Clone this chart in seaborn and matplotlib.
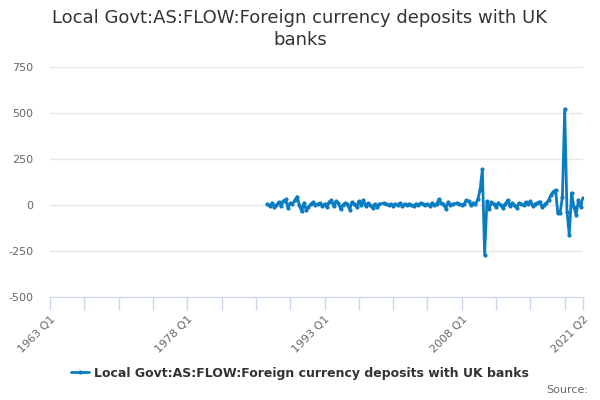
import numpy as np
import pandas as pd
import matplotlib
matplotlib.use("Agg")
import matplotlib.pyplot as plt
import seaborn as sns

title = "Local Govt:AS:FLOW:Foreign currency deposits with UK\nbanks"
series_name = "Local Govt:AS:FLOW:Foreign currency deposits with UK banks"

first_year, last_year, last_quarter = 1963, 2021, 2
data_start = "1986 Q4"

# quarterly flow values, 1986 Q4 .. 2021 Q2 (nan = missing)
values = [
    5,
    -5, 10, -10, 0,      # 1987
    15, -5, 20, 30,      # 1988
    -15, 10, 5, 25,      # 1989
    45, 0, -35, 10,      # 1990
    -25, -10, 5, 15,     # 1991
    0, 5, 10, -5,        # 1992
    5, -10, 15, 25,      # 1993
    -5, 20, 10, -20,     # 1994
    0, 10, 5, -25,       # 1995
    15, 5, -10, 20,      # 1996
    0, 25, -5, 10,       # 1997
    0, -15, 5, -10,      # 1998
    5, np.nan, 10, 5,    # 1999
    0, 5, -5, 5,         # 2000
    0, 10, -5, 5,        # 2001
    0, 5, 0, -5,         # 2002
    5, 0, 10, 5,         # 2003
    0, 5, -5, 10,        # 2004
    0, 5, 30, 10,        # 2005
    5, -20, 15, 0,       # 2006
    5, np.nan, 10, 5,    # 2007
    0, 5, 25, 20,        # 2008
    0, 10, 5, 30,        # 2009
    81, 194, -270, 20,   # 2010
    -20, 15, 5, -10,     # 2011
    10, 0, -15, 5,       # 2012
    25, -5, 10, 0,       # 2013
    -15, 10, 5, 0,       # 2014
    15, 5, 20, -5,       # 2015
    5, 10, 18, -9,       # 2016
    0, 11, 27, 54,       # 2017
    72, 81, -45, -43,    # 2018
    45, 521, -36, -163,  # 2019
    65, -9, -54, 27,     # 2020
    -9, 38,              # 2021
]

quarters = [f"{y} Q{q}" for y in range(first_year, last_year + 1) for q in range(1, 5)]
quarters = quarters[:quarters.index(f"{last_year} Q{last_quarter}") + 1]
start = quarters.index(data_start)
full = [np.nan] * start + values

df = pd.DataFrame({"pos": np.arange(len(quarters)), "quarter": quarters, "value": full})

label_quarters = ["1963 Q1", "1978 Q1", "1993 Q1", "2008 Q1", "2021 Q2"]
y_ticks = [-500, -250, 0, 250, 500, 750]

line_color = "#0a7cc1"

sns.set_style("white")
plt.rcParams["font.family"] = ["DejaVu Sans"]

fig = plt.figure(figsize=(6, 4), dpi=100)
ax = fig.add_axes([50 / 600, 1 - 297 / 400, 533 / 600, 230 / 400])

sns.lineplot(data=df, x="pos", y="value", ax=ax, color=line_color, linewidth=2,
             marker="o", markersize=3, markeredgewidth=0, label=series_name)

ax.set_xlim(0, len(quarters) - 1)
ax.set_ylim(-500, 750)
ax.set_yticks(y_ticks)
ax.set_yticklabels([str(v) for v in y_ticks], color="#666666", fontsize=8)
ax.grid(axis="y", color="#e6e6e6", linewidth=1)
ax.set_axisbelow(True)

tick_pos = list(range(0, len(quarters), 15)) + [len(quarters) - 1]
tick_labels = [quarters[p] if quarters[p] in label_quarters else "" for p in tick_pos]
ax.set_xticks(tick_pos)
ax.set_xticklabels(tick_labels, rotation=45, ha="right", rotation_mode="anchor",
                   color="#666666", fontsize=8)
ax.tick_params(axis="x", bottom=True, length=9, width=1, color="#ccd6eb", pad=3)
ax.tick_params(axis="y", left=False, length=0, pad=12)
for side in ["top", "right", "left"]:
    ax.spines[side].set_visible(False)
ax.spines["bottom"].set_color("#ccd6eb")
ax.set_xlabel("")
ax.set_ylabel("")

ax.legend_.remove()
handles, labels = ax.get_legend_handles_labels()
leg = fig.legend(handles, labels, loc="center", bbox_to_anchor=(0.5, 1 - 373 / 400),
                 frameon=False, prop={"weight": "bold", "size": 9}, handlelength=1.5,
                 handletextpad=0.4)
for t in leg.get_texts():
    t.set_color("#333333")

fig.text(0.5, 1 - 29 / 400, title, ha="center", va="center",
         fontsize=13, color="#333333", linespacing=1.25)
fig.text(588 / 600, 1 - 390 / 400, "Source:", ha="right", va="center",
         fontsize=8, color="#666666")

fig.savefig("out.png", dpi=100)
